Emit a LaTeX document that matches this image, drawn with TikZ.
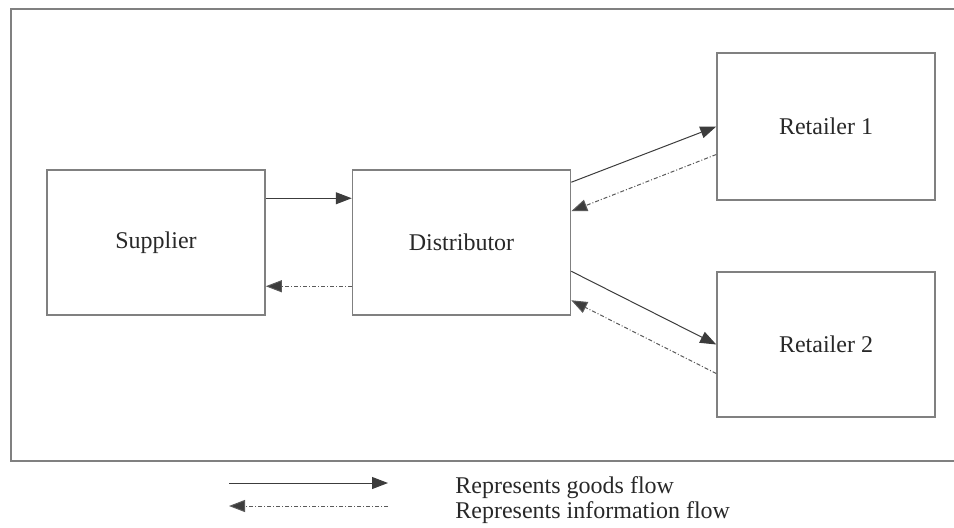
\documentclass[tikz,border=0pt]{standalone}
\usepackage{fontspec}
\setmainfont{Liberation Serif}
\usetikzlibrary{arrows.meta, positioning, calc}
\definecolor{boxline}{RGB}{128,128,128}
\definecolor{flowline}{RGB}{60,60,60}
\definecolor{infoline}{RGB}{90,90,90}
\definecolor{txt}{RGB}{40,40,40}
\tikzset{
  party/.style={draw=boxline, line width=0.75pt, minimum width=109pt, minimum height=72.5pt,
                text=txt, font=\fontsize{12}{14}\selectfont},
  goods/.style={draw=flowline, line width=0.5pt, -{Triangle[length=8pt,width=6pt]}, color=flowline},
  info/.style={draw=infoline, line width=0.5pt, dash pattern=on 2pt off 1pt on 0.5pt off 1pt,
               -{Triangle[length=8pt,width=6pt,fill=flowline]}, color=infoline},
  legendtext/.style={anchor=base west, inner sep=0pt, text=txt, font=\fontsize{12}{14}\selectfont}
}

\begin{document}
\begin{tikzpicture}[x=0.5pt, y=-0.5pt]
  \useasboundingbox (0,0) rectangle (954,527);
  \draw[draw=boxline, line width=0.75pt] (960,9) -- (11,9) -- (11,461) -- (960,461);

  \node[party] (sup) at (156,242.5) {Supplier};
  \node[party] (dis) at (461.5,242.5) {Distributor};
  \node[party, minimum height=73.5pt] (ret1) at (826,126.5) {Retailer 1};
  \node[party] (ret2) at (826,344.5) {Retailer 2};

  % goods flow
  \draw[goods] ($(sup.north east)+(0,29)$) -- ($(dis.north west)+(0,29)$);
  \draw[goods] ($(dis.north east)+(0,13)$) -- (ret1.west);
  \draw[goods] ($(dis.north east)+(0,102)$) -- (ret2.west);
  % information flow
  \draw[info] ($(dis.north west)+(0,117)$) -- ($(sup.north east)+(0,117)$);
  \draw[info] ($(ret1.west)+(0,28)$) -- ($(dis.north east)+(0,42)$);
  \draw[info] ($(ret2.west)+(0,29)$) -- ($(dis.north east)+(0,131)$);

  % legend
  \coordinate (g1) at (229,483);
  \coordinate (g2) at (388,483);
  \coordinate (i1) at (388,506);
  \coordinate (i2) at (229,506);
  \draw[goods] (g1) -- (g2);
  \draw[info] (i1) -- (i2);
  \node[legendtext] (lgoods) at (455,493) {Represents goods flow};
  \node[legendtext] (linfo) at (455,518) {Represents information flow};
\end{tikzpicture}
\end{document}
